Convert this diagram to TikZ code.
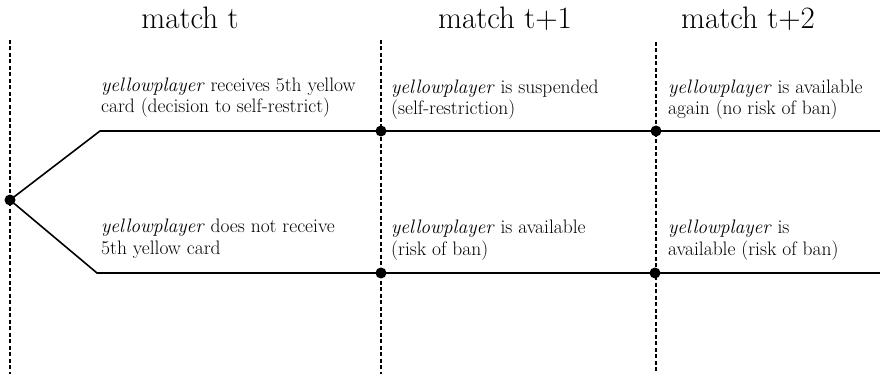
\documentclass[tikz,border=0pt]{standalone}
\begin{document}
\begin{tikzpicture}[x=1pt,y=-1pt,
  hdr/.style={anchor=base,inner sep=0pt,font=\fontsize{31}{36}\selectfont},
  lbl/.style={anchor=base west,inner sep=0pt,align=left,font=\fontsize{19.5}{21.5}\selectfont},
  dot/.style={circle,fill=black,inner sep=0pt,minimum size=11pt},
  tline/.style={line width=1.6pt},
  vline/.style={line width=1.2pt,dash pattern=on 4pt off 2.5pt}]
\useasboundingbox (0,0) rectangle (880,374);
% headers
\node[hdr] (h0) at (190,29) {match t};
\node[hdr] (h1) at (505,29) {match t+1};
\node[hdr] (h2) at (748,29) {match t+2};
% dashed time separators
\coordinate (v0t) at (10,40);  \coordinate (v0b) at (10,374);
\coordinate (v1t) at (381,40); \coordinate (v1b) at (381,374);
\coordinate (v2t) at (656,42); \coordinate (v2b) at (656,374);
\draw[vline] (v0t) -- (v0b);
\draw[vline] (v1t) -- (v1b);
\draw[vline] (v2t) -- (v2b);
% tree
\coordinate (ua) at (100,131); \coordinate (ue) at (880,131);
\coordinate (la) at (97,273);  \coordinate (le) at (880,273);
\node[dot] (o) at (10,200) {};
\node[dot] (u1) at (381,131) {};
\node[dot] (u2) at (656,131) {};
\node[dot] (l1) at (381,273) {};
\node[dot] (l2) at (655,273) {};
\draw[tline] (o.center) -- (ua) -- (u1.center) -- (u2.center) -- (ue);
\draw[tline] (o.center) -- (la) -- (l1.center) -- (l2.center) -- (le);
% labels (anchor = baseline of the last line)
\node[lbl] (t1) at (101,113) {\textit{yellowplayer} receives 5th yellow\\card (decision to self-restrict)};
\node[lbl] (t2) at (391,115) {\textit{yellowplayer} is suspended\\(self-restriction)};
\node[lbl] (t3) at (668,115) {\textit{yellowplayer} is available\\again (no risk of ban)};
\node[lbl] (b1) at (101,254) {\textit{yellowplayer} does not receive\\5th yellow card};
\node[lbl] (b2) at (391,255) {\textit{yellowplayer} is available\\(risk of ban)};
\node[lbl] (b3) at (668,255) {\textit{yellowplayer} is\\available (risk of ban)};
\end{tikzpicture}
\end{document}
